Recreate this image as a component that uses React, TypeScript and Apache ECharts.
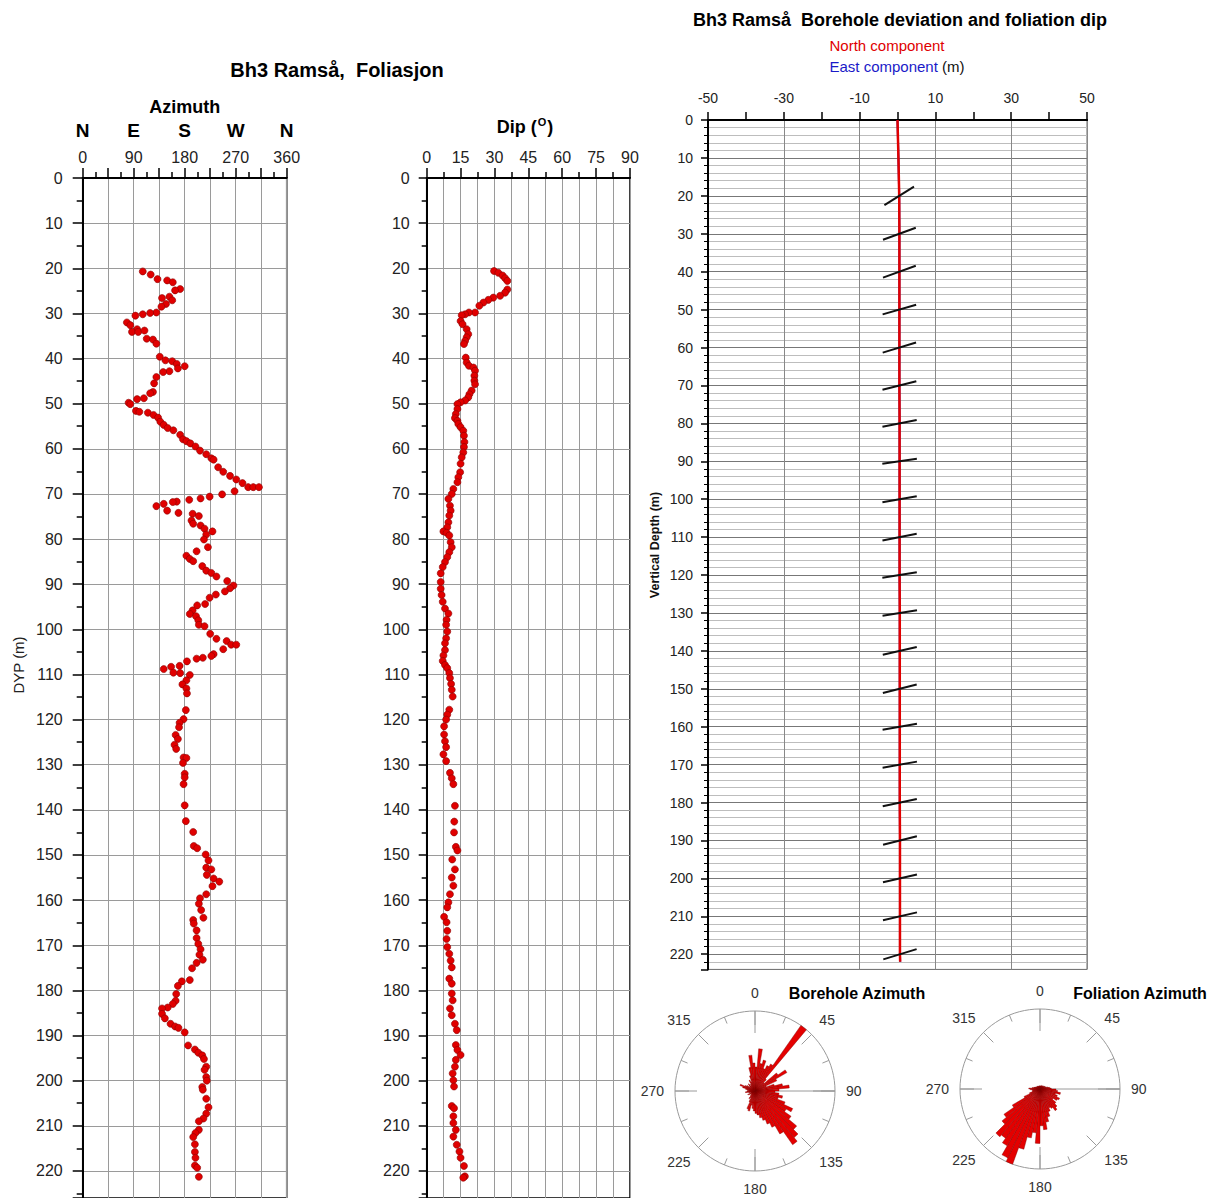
import React, { useEffect, useRef } from 'react';
import * as echarts from 'echarts';

const FONT = '"Liberation Sans", Arial, Helvetica, sans-serif';

// ---------- Azimuth log (depth m, azimuth deg) ----------
const azDepth = [
  20.7, 21.4, 22.4, 22.7, 23.1, 24.6, 24.9, 26.3, 26.6, 27.1, 27.9, 28.5, 29.8, 29.9, 30.2, 30.5, 32.0, 32.6, 33.5, 34.1,
  34.1, 33.8, 35.6, 35.8, 36.7, 39.6, 40.4, 40.6, 41.2, 41.7, 42.2, 42.8, 43.0, 44.1, 45.5, 47.4, 47.7, 48.8, 49.0, 49.8,
  50.1, 51.6, 51.8, 52.0, 52.5, 53.1, 54.0, 54.7, 55.4, 55.9, 56.9, 57.9, 58.3, 58.8, 59.5, 60.4, 61.2, 62.1, 62.4, 64.1,
  65.1, 66.0, 66.8, 67.6, 68.5, 68.5, 68.5, 69.4, 70.1, 70.6, 71.0, 71.3, 71.7, 71.8, 72.2, 72.7, 73.7, 74.2, 74.4, 74.9,
  75.9, 76.6, 77.0, 77.7, 78.3, 79.0, 80.1, 81.8, 82.7, 83.7, 84.4, 84.9, 86.0, 87.0, 87.5, 88.3, 89.3, 90.3, 90.9, 91.6,
  92.3, 93.0, 94.4, 94.7, 95.8, 96.6, 97.1, 98.0, 99.0, 99.3, 101.0, 102.1, 102.6, 103.4, 103.4, 104.4, 105.5, 105.9, 106.3, 106.5,
  107.1, 108.1, 108.3, 108.8, 109.6, 109.7, 110.1, 111.3, 112.2, 113.1, 114.2, 117.9, 119.9, 120.7, 121.7, 123.4, 124.3, 125.6, 126.5, 128.4,
  128.5, 129.6, 132.0, 132.8, 134.3, 139.0, 142.5, 144.9, 148.0, 148.5, 149.9, 151.2, 152.8, 153.2, 154.4, 155.2, 155.9, 156.9, 158.7, 159.6,
  160.8, 162.2, 163.9, 164.4, 165.2, 166.7, 168.4, 169.7, 170.9, 172.1, 173.2, 173.9, 175.1, 177.7, 178.0, 179.0, 180.8, 182.3, 183.0, 183.8,
  184.0, 185.2, 186.2, 187.4, 188.0, 188.3, 189.3, 192.2, 193.1, 193.8, 194.4, 195.2, 196.9, 197.6, 199.2, 200.0, 201.4, 202.0, 204.0, 205.9,
  207.3, 208.4, 209.0, 210.9, 211.6, 212.5, 214.1, 215.8, 217.1, 218.8, 219.3, 221.3,
];
const azValue = [
  106, 120, 132, 149, 159, 172, 163, 153, 140, 158, 147, 139, 130, 119, 106, 93, 78, 84, 96, 87,
  98, 109, 113, 124, 130, 136, 146, 158, 166, 180, 168, 153, 142, 130, 126, 124, 119, 108, 96, 81,
  84, 94, 100, 115, 125, 133, 137, 143, 150, 160, 172, 177, 183, 190, 199, 207, 218, 227, 231, 239,
  248, 260, 271, 282, 292, 301, 311, 268, 246, 224, 208, 188, 166, 159, 143, 130, 149, 169, 194, 205,
  192, 195, 208, 215, 229, 218, 214, 221, 201, 183, 189, 195, 211, 218, 227, 236, 255, 266, 260, 251,
  235, 224, 216, 202, 194, 189, 200, 204, 205, 215, 225, 236, 254, 262, 271, 248, 231, 227, 212, 201,
  184, 171, 156, 143, 160, 172, 189, 183, 176, 183, 184, 182, 178, 171, 170, 164, 168, 162, 165, 178,
  183, 177, 180, 180, 178, 180, 182, 195, 196, 202, 217, 222, 218, 227, 219, 231, 241, 229, 218, 207,
  205, 209, 213, 195, 196, 201, 201, 204, 208, 206, 212, 201, 193, 189, 175, 168, 165, 164, 159, 150,
  140, 140, 145, 155, 163, 169, 180, 186, 198, 204, 211, 214, 218, 215, 218, 219, 211, 212, 218, 222,
  218, 213, 205, 205, 199, 195, 198, 198, 199, 198, 202, 205,
];

// ---------- Dip log (depth m, dip deg) ----------
const dipDepth = [
  20.6, 21.0, 21.6, 22.2, 22.8, 24.7, 25.4, 26.1, 26.5, 27.0, 27.6, 28.3, 29.8, 29.8, 30.2, 30.4, 31.7, 32.4, 33.5, 34.6,
  35.3, 36.1, 36.8, 39.8, 40.9, 41.6, 42.0, 42.7, 43.8, 44.9, 45.7, 47.1, 47.9, 48.6, 49.3, 49.7, 50.1, 51.2, 52.3, 53.2,
  53.8, 54.5, 55.2, 56.0, 57.1, 58.5, 59.6, 60.8, 61.9, 63.3, 65.2, 66.3, 67.4, 68.9, 70.0, 71.1, 72.6, 73.7, 74.8, 76.3,
  77.4, 78.3, 78.6, 79.2, 80.7, 81.8, 82.9, 84.0, 85.1, 86.2, 87.6, 89.5, 91.0, 92.4, 93.9, 95.4, 96.5, 97.9, 99.0, 100.5,
  102.0, 103.1, 104.6, 105.8, 107.0, 107.9, 108.6, 109.7, 110.8, 112.1, 113.4, 114.9, 117.8, 118.9, 120.0, 121.5, 123.3, 124.8, 126.1, 127.7,
  129.2, 131.8, 133.0, 134.3, 139.1, 142.6, 145.0, 148.2, 149.0, 151.0, 153.2, 155.0, 156.8, 158.7, 160.5, 161.6, 163.7, 164.9, 166.8, 168.6,
  170.4, 171.9, 173.4, 174.9, 177.4, 178.5, 180.7, 182.2, 184.0, 185.5, 187.4, 188.8, 192.1, 193.2, 194.3, 195.4, 196.9, 198.4, 199.9, 201.3,
  205.6, 206.1, 207.9, 209.4, 210.9, 212.4, 214.2, 215.7, 217.1, 218.9, 221.2, 221.5,
];
const dipValue = [
  29.8, 31.7, 33.6, 34.7, 35.7, 35.7, 34.7, 32.5, 29.5, 27.3, 25.1, 23.3, 21.4, 18.7, 17.0, 15.5, 15.0, 15.9, 17.7, 18.4,
  17.7, 17.0, 16.5, 17.3, 17.7, 18.7, 20.7, 21.4, 21.1, 21.1, 21.4, 19.9, 18.9, 18.4, 17.0, 15.0, 13.6, 13.6, 12.9, 12.5,
  13.6, 14.0, 15.0, 16.2, 16.5, 16.7, 16.5, 16.2, 15.5, 15.0, 14.8, 14.0, 13.6, 11.8, 11.1, 9.6, 10.3, 10.6, 10.0, 9.6,
  9.1, 7.4, 8.8, 10.0, 10.6, 11.1, 10.0, 9.1, 8.1, 7.1, 6.2, 6.2, 6.2, 6.6, 7.1, 8.1, 9.6, 8.8, 8.6, 9.1,
  8.6, 8.1, 8.1, 7.4, 7.1, 8.1, 9.1, 10.0, 10.3, 10.8, 11.1, 11.5, 10.0, 9.1, 8.6, 7.7, 7.7, 8.1, 8.6, 7.4,
  8.6, 10.3, 11.1, 11.8, 12.5, 12.2, 12.1, 12.9, 13.6, 11.3, 12.5, 11.1, 11.8, 10.3, 9.6, 9.1, 7.7, 8.8, 9.1, 8.8,
  9.1, 10.0, 10.6, 11.1, 10.0, 11.1, 11.1, 11.5, 10.3, 11.1, 12.5, 13.3, 12.9, 13.6, 15.0, 12.9, 12.5, 11.5, 11.8, 12.1,
  11.1, 12.1, 11.8, 11.8, 12.9, 11.8, 13.3, 14.5, 15.0, 16.5, 16.9, 16.2,
];

// ---------- Borehole deviation (vertical depth m, component m) ----------
const devDepth = [0, 10, 20, 30, 40, 50, 60, 70, 80, 90, 100, 110, 120, 130, 140, 150, 160, 170, 180, 190, 200, 210, 220, 222];
const northComp = [0, 0.25, 0.45, 0.5, 0.5, 0.5, 0.5, 0.5, 0.55, 0.55, 0.55, 0.55, 0.55, 0.6, 0.6, 0.6, 0.6, 0.6, 0.6, 0.65, 0.65, 0.65, 0.65, 0.7];
const eastComp = [0, 0.25, 0.45, 0.5, 0.5, 0.5, 0.5, 0.5, 0.55, 0.55, 0.55, 0.55, 0.55, 0.6, 0.6, 0.6, 0.6, 0.6, 0.6, 0.65, 0.65, 0.65, 0.65, 0.7];

// ---------- Foliation dip symbols ----------
const tickDepth = [20, 30, 40, 50, 60, 70, 80, 90, 100, 110, 120, 130, 140, 150, 160, 170, 180, 190, 200, 210, 220];
const tickDip = [32, 20, 20, 16, 17, 14, 11, 8, 10, 11, 9, 9, 13, 14, 10, 10, 12, 14, 13, 13, 17];
const tickPos = [0.45, 0.5, 0.5, 0.5, 0.5, 0.5, 0.55, 0.55, 0.55, 0.55, 0.55, 0.6, 0.6, 0.6, 0.6, 0.6, 0.6, 0.65, 0.65, 0.65, 0.65];

// ---------- Rose diagrams (5 degree bins, relative length) ----------
const roseBins = Array.from({ length: 72 }, (_, i) => String(i * 5));
const boreholeRose = [
  0.3, 0.53, 0.35, 0.4, 0.3, 0.35, 0.39, 1.0, 0.2, 0.15, 0.35, 0.46, 0.3, 0.15, 0.25, 0.35, 0.43, 0.3,
  0.25, 0.3, 0.35, 0.3, 0.4, 0.52, 0.45, 0.55, 0.68, 0.76, 0.82, 0.62, 0.5, 0.44, 0.38, 0.34, 0.3, 0.28,
  0.25, 0.22, 0.18, 0.26, 0.24, 0.15, 0.1, 0.12, 0.08, 0.06, 0.05, 0.08, 0.1, 0.06, 0.05, 0.08, 0.12, 0.1,
  0.08, 0.1, 0.12, 0.16, 0.2, 0.14, 0.12, 0.08, 0.1, 0.12, 0.08, 0.1, 0.15, 0.12, 0.2, 0.3, 0.45, 0.35,
];
const foliationRose = [
  0.04, 0.03, 0.04, 0.03, 0.04, 0.05, 0.04, 0.05, 0.04, 0.05, 0.06, 0.05, 0.07, 0.06, 0.08, 0.1, 0.12, 0.14,
  0.2, 0.22, 0.26, 0.2, 0.23, 0.27, 0.25, 0.2, 0.26, 0.3, 0.33, 0.28, 0.26, 0.3, 0.36, 0.42, 0.51, 0.46,
  0.68, 0.55, 0.62, 0.78, 1.0, 0.95, 0.82, 0.75, 0.78, 0.62, 0.55, 0.4, 0.22, 0.14, 0.1, 0.09, 0.1, 0.12,
  0.14, 0.1, 0.08, 0.07, 0.06, 0.05, 0.05, 0.04, 0.04, 0.05, 0.04, 0.04, 0.03, 0.04, 0.03, 0.04, 0.03, 0.04,
];

const azTickLabels = ['N', 'E', 'S', 'W', 'N'];

const PX_L = 4.532; // px per metre, left logs
const PX_R = 3.792; // px per metre, deviation panel

function roseAxes(center: number[], base: number) {
  const polar = [
    { center, radius: 80 },
    { center, radius: 80 },
    { center, radius: 80 },
    { center, radius: 80 },
  ];
  const gray = '#9a9a9a';
  const angleAxis: any[] = [
    {
      polarIndex: base, type: 'value', min: 0, max: 360, interval: 45, startAngle: 90, clockwise: true,
      axisLine: { show: true, lineStyle: { color: gray, width: 1 } },
      axisTick: { show: true, inside: true, length: 14, lineStyle: { color: gray, width: 1 } },
      minorTick: { show: true, splitNumber: 2, length: 7, lineStyle: { color: gray, width: 1 } },
      axisLabel: { show: true, margin: 11, fontSize: 14, color: '#333', fontFamily: FONT, formatter: (v: number) => (v === 360 ? '' : String(v)) },
      splitLine: { show: false },
    },
    {
      polarIndex: base + 1, type: 'value', min: 0, max: 360, interval: 90, startAngle: 90,
      axisLine: { show: false }, axisLabel: { show: false },
      axisTick: { show: true, inside: true, length: 22, lineStyle: { color: gray, width: 1 } },
      splitLine: { show: false },
    },
    {
      polarIndex: base + 2, type: 'value', min: 0, max: 360, interval: 360, startAngle: 0,
      axisLine: { show: false }, axisLabel: { show: false }, axisTick: { show: false },
      splitLine: { show: true, lineStyle: { color: gray, width: 1 } },
    },
    {
      polarIndex: base + 3, type: 'category', data: roseBins, startAngle: 90, clockwise: true, show: false,
    },
  ];
  const radiusAxis = [0, 1, 2, 3].map((k) => ({ polarIndex: base + k, type: 'value', min: 0, max: 1, show: false }));
  return { polar, angleAxis, radiusAxis };
}

function text(x: number, y: number, t: string, font: string, fill = '#000', rotation = 0, rich?: any) {
  return {
    type: 'text', x, y, rotation, silent: true,
    style: {
      text: t, font, fill, align: 'center', verticalAlign: 'middle', textAlign: 'center', textVerticalAlign: 'middle',
      ...(rich ? { rich } : {}),
    },
  };
}

function buildOption() {
  const rb = roseAxes([755, 1091], 0);
  const rf = roseAxes([1040, 1089], 4);

  const axisBlack = { show: true, onZero: false, lineStyle: { color: '#000', width: 2 } };
  const labelStyle = { fontFamily: FONT, color: '#222' };
  const gridLine = { show: true, lineStyle: { color: '#9a9a9a', width: 1 } };
  const roseStyle = { color: '#e40000', borderColor: '#7a0000', borderWidth: 0.4 };

  return {
    animation: false,
    backgroundColor: '#fff',
    grid: [
      { left: 82.7, top: 178, width: 204, height: 226 * PX_L, show: true, borderColor: '#000', borderWidth: 1.5, backgroundColor: 'transparent' },
      { left: 426.7, top: 178, width: 203.3, height: 226 * PX_L, show: true, borderColor: '#000', borderWidth: 1.5, backgroundColor: 'transparent' },
      { left: 708, top: 120, width: 379, height: 224 * PX_R, show: true, borderColor: '#666', borderWidth: 1, backgroundColor: 'transparent' },
    ],
    xAxis: [
      {
        gridIndex: 0, type: 'value', position: 'top', min: 0, max: 360, interval: 45,
        axisLine: axisBlack,
        axisTick: { show: true, length: 10, lineStyle: { color: '#000', width: 1.5 } },
        minorTick: { show: true, splitNumber: 2, length: 6, lineStyle: { color: '#000', width: 1.5 } },
        axisLabel: { ...labelStyle, fontSize: 16, margin: 13, formatter: (v: number) => (v % 90 === 0 ? String(v) : '') },
        splitLine: gridLine,
      },
      {
        gridIndex: 0, type: 'value', position: 'top', offset: 30, min: 0, max: 360, interval: 90,
        axisLine: { show: false }, axisTick: { show: false }, splitLine: { show: false },
        axisLabel: { fontFamily: FONT, fontSize: 19, fontWeight: 'bold', color: '#000', margin: 8, formatter: (v: number) => azTickLabels[Math.round(v / 90)] || '' },
        name: 'Azimuth', nameLocation: 'middle', nameGap: 30,
        nameTextStyle: { fontFamily: FONT, fontSize: 18, fontWeight: 'bold', color: '#000' },
      },
      {
        gridIndex: 1, type: 'value', position: 'top', min: 0, max: 90, interval: 15,
        axisLine: axisBlack,
        axisTick: { show: true, length: 10, lineStyle: { color: '#000', width: 1.5 } },
        minorTick: { show: true, splitNumber: 2, length: 6, lineStyle: { color: '#000', width: 1.5 } },
        axisLabel: { ...labelStyle, fontSize: 16, margin: 13 },
        splitLine: gridLine,
        minorSplitLine: gridLine,
      },
      {
        gridIndex: 2, type: 'value', position: 'top', min: -50, max: 50, interval: 20,
        axisLine: axisBlack, axisTick: { show: false },
        axisLabel: { ...labelStyle, fontSize: 14, margin: 15 },
        splitLine: { show: true, lineStyle: { color: '#888', width: 1 } },
      },
      {
        gridIndex: 2, type: 'value', position: 'top', min: -50, max: 50, interval: 10,
        axisLine: axisBlack,
        axisTick: { show: true, length: 8, lineStyle: { color: '#000', width: 1.5 } },
        axisLabel: { show: false }, splitLine: { show: false },
      },
    ],
    yAxis: [
      {
        gridIndex: 0, type: 'value', inverse: true, min: 0, max: 226, interval: 10,
        axisLine: axisBlack,
        axisTick: { show: true, length: 10, lineStyle: { color: '#000', width: 1.5 } },
        minorTick: { show: true, splitNumber: 2, length: 6, lineStyle: { color: '#000', width: 1.5 } },
        axisLabel: { ...labelStyle, fontSize: 16, margin: 20, formatter: (v: number) => (v % 10 === 0 && v <= 220 ? String(v) : '') },
        splitLine: gridLine,
      },
      {
        gridIndex: 1, type: 'value', inverse: true, min: 0, max: 226, interval: 10,
        axisLine: axisBlack,
        axisTick: { show: true, length: 8, lineStyle: { color: '#000', width: 1.5 } },
        minorTick: { show: true, splitNumber: 2, length: 5, lineStyle: { color: '#000', width: 1.5 } },
        axisLabel: { ...labelStyle, fontSize: 16, margin: 17, formatter: (v: number) => (v % 10 === 0 && v <= 220 ? String(v) : '') },
        splitLine: gridLine,
      },
      {
        gridIndex: 2, type: 'value', inverse: true, min: 0, max: 224, interval: 10,
        axisLine: axisBlack,
        axisTick: { show: true, length: 7, lineStyle: { color: '#000', width: 1.5 } },
        minorTick: { show: true, splitNumber: 5, length: 4, lineStyle: { color: '#000', width: 1 } },
        axisLabel: { ...labelStyle, fontSize: 14, margin: 15, formatter: (v: number) => (v % 10 === 0 && v <= 220 ? String(v) : '') },
        splitLine: { show: true, lineStyle: { color: '#777', width: 1 } },
        minorSplitLine: { show: true, lineStyle: { color: '#bdbdbd', width: 1 } },
      },
    ],
    polar: [...rb.polar, ...rf.polar],
    angleAxis: [...rb.angleAxis, ...rf.angleAxis],
    radiusAxis: [...rb.radiusAxis, ...rf.radiusAxis],
    series: [
      {
        type: 'scatter', xAxisIndex: 0, yAxisIndex: 0, symbolSize: 7,
        itemStyle: { color: '#e00000', borderColor: '#8a0000', borderWidth: 0.6, opacity: 1 },
        data: azDepth.map((d, i) => [azValue[i], d]),
      },
      {
        type: 'scatter', xAxisIndex: 2, yAxisIndex: 1, symbolSize: 7,
        itemStyle: { color: '#e00000', borderColor: '#8a0000', borderWidth: 0.6, opacity: 1 },
        data: dipDepth.map((d, i) => [dipValue[i], d]),
      },
      {
        type: 'line', xAxisIndex: 3, yAxisIndex: 2, showSymbol: false, symbol: 'none',
        lineStyle: { color: '#1010c0', width: 2 },
        data: devDepth.map((d, i) => [eastComp[i], d]),
      },
      {
        type: 'line', xAxisIndex: 3, yAxisIndex: 2, showSymbol: false, symbol: 'none',
        lineStyle: { color: '#e00000', width: 2.5 },
        data: devDepth.map((d, i) => [northComp[i], d]),
      },
      {
        type: 'custom', xAxisIndex: 3, yAxisIndex: 2, z: 5,
        encode: { x: 0, y: 1 },
        data: tickDepth.map((d, i) => [tickPos[i], d, tickDip[i]]),
        renderItem: (params: any, api: any) => {
          const x0 = api.value(0);
          const d = api.value(1);
          const r = (api.value(2) * Math.PI) / 180;
          const L = 4.6;
          const p1 = api.coord([x0 - L * Math.cos(r), d + L * Math.sin(r)]);
          const p2 = api.coord([x0 + L * Math.cos(r), d - L * Math.sin(r)]);
          return { type: 'line', shape: { x1: p1[0], y1: p1[1], x2: p2[0], y2: p2[1] }, style: { stroke: '#111', lineWidth: 2 } };
        },
      },
      {
        type: 'bar', coordinateSystem: 'polar', polarIndex: 3, barCategoryGap: '0%',
        itemStyle: roseStyle,
        data: boreholeRose,
      },
      {
        type: 'bar', coordinateSystem: 'polar', polarIndex: 7, barCategoryGap: '0%',
        itemStyle: roseStyle,
        data: foliationRose,
      },
    ],
    graphic: [
      text(337, 70, 'Bh3 Ramså,  Foliasjon', `bold 20px ${FONT}`),
      text(18, 665, 'DYP (m)', `15px ${FONT}`, '#222', Math.PI / 2),
      text(525, 127, '{a|Dip (}{s|O}{a|)}', `bold 18px ${FONT}`, '#000', 0, {
        a: { fontFamily: FONT, fontSize: 18, fontWeight: 'bold', fill: '#000' },
        s: { fontFamily: FONT, fontSize: 11, fontWeight: 'bold', fill: '#000', padding: [0, 1, 11, 1] },
      }),
      text(900, 20, 'Bh3 Ramså  Borehole deviation and foliation dip', `bold 18px ${FONT}`),
      text(887, 45, 'North component', `15px ${FONT}`, '#e00000'),
      text(897, 66, '{b|East component} {k|(m)}', `15px ${FONT}`, '#111', 0, {
        b: { fontFamily: FONT, fontSize: 15, fill: '#1a1ac8', color: '#1a1ac8' },
        k: { fontFamily: FONT, fontSize: 15, fill: '#111', color: '#111' },
      }),
      text(655, 545, 'Vertical Depth (m)', `bold 12.5px ${FONT}`, '#111', Math.PI / 2),
      text(857, 993, 'Borehole Azimuth', `bold 16px ${FONT}`),
      text(1140, 993, 'Foliation Azimuth', `bold 16px ${FONT}`),
    ],
  };
}

export default function App() {
  const ref = useRef<HTMLDivElement>(null);
  useEffect(() => {
    if (!ref.current) return;
    const chart = echarts.init(ref.current, null, { renderer: 'svg' });
    chart.setOption(buildOption() as any);
    return () => chart.dispose();
  }, []);
  return (
    <div
      ref={ref}
      style={{ position: 'absolute', left: 0, top: 0, width: 1221, height: 1198, background: '#fff' }}
    />
  );
}
